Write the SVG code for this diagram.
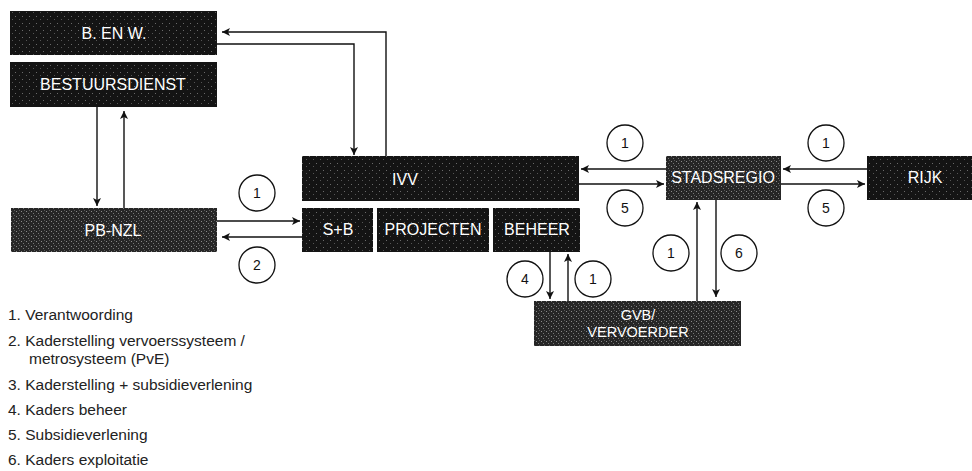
<svg xmlns="http://www.w3.org/2000/svg" width="972" height="471" viewBox="0 0 972 471">
<style>
.dark{fill:url(#pd)}
.mid{fill:url(#pm)}
.lbl{font-family:"Liberation Sans",Arial,sans-serif;font-size:16px;fill:#fff;text-anchor:middle;dominant-baseline:central}
.lbs{font-size:14.5px}
.num{font-family:"Liberation Sans",Arial,sans-serif;font-size:14px;fill:#111;text-anchor:middle;dominant-baseline:central}
.circ{fill:#fff;stroke:#111;stroke-width:1.3}
.ln{fill:none;stroke:#111;stroke-width:1.4;marker-end:url(#ah)}
.leg{font-family:"Liberation Sans",Arial,sans-serif;font-size:15.5px;fill:#222}
</style>
<defs>
<marker id="ah" viewBox="0 0 10 10" refX="10" refY="5" markerWidth="9" markerHeight="8" markerUnits="userSpaceOnUse" orient="auto">
<path d="M0,0 L10,5 L0,10 L2.5,5 Z" fill="#111"/>
</marker>
<pattern id="pd" width="7" height="7" patternUnits="userSpaceOnUse">
<rect width="7" height="7" fill="#141414"/>
<rect x="1" y="2" width="1" height="1" fill="#6a6a6a"/>
<rect x="5" y="5" width="1" height="1" fill="#555"/>
</pattern>
<pattern id="pm" width="5" height="5" patternUnits="userSpaceOnUse">
<rect width="5" height="5" fill="#262626"/>
<rect x="1" y="1" width="1" height="1" fill="#8a8a8a"/>
<rect x="3" y="3" width="1" height="1" fill="#777"/>
<rect x="4" y="0" width="1" height="1" fill="#5a5a5a"/>
</pattern>
</defs>
<rect width="972" height="471" fill="#fff"/>

<g id="connectors">
<path class="ln" d="M386,156 V32 H222"/>
<path class="ln" d="M217,44 H354 V155"/>
<path class="ln" d="M97,107 V206"/>
<path class="ln" d="M124,208 V111"/>
<path class="ln" d="M217,221 H300"/>
<path class="ln" d="M302,237 H222"/>
<path class="ln" d="M666,169 H581"/>
<path class="ln" d="M579,184 H664"/>
<path class="ln" d="M867,169 H783"/>
<path class="ln" d="M781,184 H865"/>
<path class="ln" d="M697,301 V202"/>
<path class="ln" d="M716,200 V297"/>
<path class="ln" d="M550,252 V299"/>
<path class="ln" d="M568,301 V254"/>
</g>

<g id="b-en-w"><rect class="dark" x="10" y="11" width="207" height="44"/><text class="lbl" x="114" y="33">B. EN W.</text></g>
<g id="bestuursdienst"><rect class="dark" x="10" y="62" width="207" height="45"/><text class="lbl" x="113" y="84">BESTUURSDIENST</text></g>
<g id="pb-nzl"><rect class="mid" x="11" y="208" width="206" height="44"/><text class="lbl" x="113" y="230">PB-NZL</text></g>
<g id="ivv"><rect class="dark" x="302" y="156" width="277" height="45"/><text class="lbl" x="405" y="179">IVV</text></g>
<g id="s-b"><rect class="dark" x="302" y="208" width="71" height="44"/><text class="lbl" x="338" y="229">S+B</text></g>
<g id="projecten"><rect class="dark" x="377" y="208" width="112" height="44"/><text class="lbl" x="433" y="229">PROJECTEN</text></g>
<g id="beheer"><rect class="dark" x="493" y="208" width="87" height="44"/><text class="lbl" x="537" y="229">BEHEER</text></g>
<g id="stadsregio"><rect class="mid" x="666" y="156" width="115" height="44"/><text class="lbl" x="723" y="177">STADSREGIO</text></g>
<g id="rijk"><rect class="dark" x="867" y="156" width="105" height="44"/><text class="lbl" x="925" y="177">RIJK</text></g>
<g id="gvb"><rect class="mid" x="534" y="301" width="207" height="45"/><text class="lbl lbs" x="638" y="315">GVB/</text><text class="lbl lbs" x="638" y="332">VERVOERDER</text></g>

<g id="labels">
<circle class="circ" cx="257" cy="193" r="18"/><text class="num" x="257" y="193">1</text>
<circle class="circ" cx="257" cy="265" r="18"/><text class="num" x="257" y="265">2</text>
<circle class="circ" cx="625" cy="143" r="18"/><text class="num" x="625" y="143">1</text>
<circle class="circ" cx="625" cy="208" r="18"/><text class="num" x="625" y="208">5</text>
<circle class="circ" cx="826" cy="143" r="18"/><text class="num" x="826" y="143">1</text>
<circle class="circ" cx="826" cy="208" r="18"/><text class="num" x="826" y="208">5</text>
<circle class="circ" cx="671" cy="253" r="18"/><text class="num" x="671" y="253">1</text>
<circle class="circ" cx="739" cy="253" r="18"/><text class="num" x="739" y="253">6</text>
<circle class="circ" cx="525" cy="279" r="18"/><text class="num" x="525" y="279">4</text>
<circle class="circ" cx="593" cy="279" r="18"/><text class="num" x="593" y="279">1</text>
</g>

<g id="legend">
<text class="leg" x="8" y="320">1. Verantwoording</text>
<text class="leg" x="8" y="346">2. Kaderstelling vervoerssysteem /</text>
<text class="leg" x="29" y="364">metrosysteem (PvE)</text>
<text class="leg" x="8" y="390">3. Kaderstelling + subsidieverlening</text>
<text class="leg" x="8" y="415">4. Kaders beheer</text>
<text class="leg" x="8" y="440">5. Subsidieverlening</text>
<text class="leg" x="8" y="465">6. Kaders exploitatie</text>
</g>
</svg>
